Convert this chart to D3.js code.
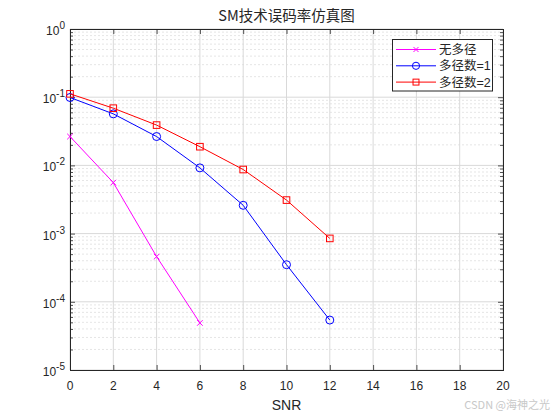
<!DOCTYPE html>
<html><head><meta charset="utf-8">
<script src="https://cdn.jsdelivr.net/npm/d3@7"></script>
<style>body{margin:0;background:#fff;}svg{display:block;}</style>
</head><body>
<script>
const snrNoMP = [0, 2, 4, 6];
const berNoMP = [0.0265, 0.0056, 0.00046, 0.000049];
const snrMP1 = [0, 2, 4, 6, 8, 10, 12];
const berMP1 = [0.099, 0.057, 0.0265, 0.0092, 0.0026, 0.00035, 0.000054];
const snrMP2 = [0, 2, 4, 6, 8, 10, 12];
const berMP2 = [0.112, 0.069, 0.039, 0.0188, 0.0087, 0.0031, 0.00085];
const xTicks = [0, 2, 4, 6, 8, 10, 12, 14, 16, 18, 20];
const yExps = [0, -1, -2, -3, -4, -5];
const seriesNames = ["无多径", "多径数=1", "多径数=2"];
const seriesColors = ["#ff00ff", "#0000ff", "#ff0000"];

const W = 554, H = 415;
const m = {l: 70, r: 51, t: 29, b: 45};
const svg = d3.select("body").append("svg").attr("width", W).attr("height", H);
const x = d3.scaleLinear().domain([0, 20]).range([m.l, W - m.r]);
const y = d3.scaleLog().domain([1e-5, 1]).range([H - m.b, m.t]);
const font = "'Liberation Sans', Arial, 'Noto Sans CJK SC', sans-serif";
const cjk = "'Noto Sans CJK SC', 'Liberation Sans', sans-serif";

const g = svg.append("g");
const minor = [];
for (let e = -5; e < 0; e++) for (let k = 2; k <= 9; k++) minor.push(k * Math.pow(10, e));
g.selectAll(".mg").data(minor).enter().append("line")
  .attr("x1", m.l).attr("x2", W - m.r).attr("y1", d => y(d)).attr("y2", d => y(d))
  .attr("stroke", "#dedede").attr("stroke-width", 0.8).attr("stroke-dasharray", "2,2");
g.selectAll(".Mg").data(yExps).enter().append("line")
  .attr("x1", m.l).attr("x2", W - m.r).attr("y1", d => y(Math.pow(10, d))).attr("y2", d => y(Math.pow(10, d)))
  .attr("stroke", "#d9d9d9").attr("stroke-width", 1);
g.selectAll(".xg").data(xTicks).enter().append("line")
  .attr("y1", m.t).attr("y2", H - m.b).attr("x1", d => x(d)).attr("x2", d => x(d))
  .attr("stroke", "#d9d9d9").attr("stroke-width", 1);

const axB = d3.axisBottom(x).tickValues(xTicks).tickSize(-5).tickFormat("");
const axT = d3.axisTop(x).tickValues(xTicks).tickSize(-5).tickFormat("");
svg.append("g").attr("transform", `translate(0,${H - m.b})`).call(axB);
svg.append("g").attr("transform", `translate(0,${m.t})`).call(axT);
const majorVals = yExps.map(e => Math.pow(10, e));
const axL = d3.axisLeft(y).tickValues(majorVals).tickSize(-5).tickFormat("");
const axR = d3.axisRight(y).tickValues(majorVals).tickSize(-5).tickFormat("");
const axLm = d3.axisLeft(y).tickValues(minor).tickSize(-3).tickFormat("");
const axRm = d3.axisRight(y).tickValues(minor).tickSize(-3).tickFormat("");
svg.append("g").attr("transform", `translate(${m.l},0)`).call(axL);
svg.append("g").attr("transform", `translate(${m.l},0)`).call(axLm);
svg.append("g").attr("transform", `translate(${W - m.r},0)`).call(axR);
svg.append("g").attr("transform", `translate(${W - m.r},0)`).call(axRm);
svg.selectAll(".domain").attr("stroke", "#262626").attr("stroke-width", 1);
svg.selectAll(".tick line").attr("stroke", "#262626").attr("stroke-width", 0.8);

svg.selectAll(".xl").data(xTicks).enter().append("text")
  .attr("x", d => x(d)).attr("y", H - m.b + 20).attr("text-anchor", "middle")
  .attr("font-family", font).attr("font-size", 12).attr("fill", "#262626").text(d => d);
yExps.forEach(e => {
  const t = svg.append("text").attr("x", m.l - 5).attr("y", y(Math.pow(10, e)) + 6)
    .attr("text-anchor", "end").attr("font-family", font).attr("font-size", 12).attr("fill", "#262626");
  t.append("tspan").text("10");
  t.append("tspan").attr("dy", -6).attr("font-size", 10).text(String(e));
});

svg.append("text").attr("x", (m.l + W - m.r) / 2).attr("y", 410).attr("text-anchor", "middle")
  .attr("font-family", font).attr("font-size", 14).attr("fill", "#262626").text("SNR");
svg.append("text").attr("x", (m.l + W - m.r) / 2).attr("y", 21).attr("text-anchor", "middle")
  .attr("font-family", cjk).attr("font-size", 14.5).attr("fill", "#262626").text("SM技术误码率仿真图");

const series = [
  {xs: snrNoMP, ys: berNoMP, c: seriesColors[0], mk: "x"},
  {xs: snrMP1, ys: berMP1, c: seriesColors[1], mk: "o"},
  {xs: snrMP2, ys: berMP2, c: seriesColors[2], mk: "s"}
];
const line = d3.line().x(d => x(d[0])).y(d => y(d[1]));
function marker(sel, type, c, cx, cy, sc) {
  sc = sc || 1;
  if (type === "x") {
    const h = 2.8 * sc;
    sel.append("path").attr("d", `M${cx-h},${cy-h}L${cx+h},${cy+h}M${cx-h},${cy+h}L${cx+h},${cy-h}`)
      .attr("stroke", c).attr("stroke-width", 1).attr("fill", "none");
  } else if (type === "o") {
    sel.append("circle").attr("cx", cx).attr("cy", cy).attr("r", 4 * sc).attr("stroke", c).attr("stroke-width", 1).attr("fill", "none");
  } else {
    const h = 3.3 * sc;
    sel.append("rect").attr("x", cx - h).attr("y", cy - h).attr("width", 2 * h).attr("height", 2 * h)
      .attr("stroke", c).attr("stroke-width", 1).attr("fill", "none");
  }
}
series.forEach(s => {
  const pts = s.xs.map((v, i) => [v, s.ys[i]]);
  svg.append("path").datum(pts).attr("d", line).attr("fill", "none").attr("stroke", s.c).attr("stroke-width", 1);
  const mg = svg.append("g");
  pts.forEach(p => marker(mg, s.mk, s.c, x(p[0]), y(p[1])));
});

const lg = svg.append("g");
lg.append("rect").attr("x", 392.5).attr("y", 39.5).attr("width", 100).attr("height", 51.5)
  .attr("fill", "#fff").attr("stroke", "#262626").attr("stroke-width", 1);
series.forEach((s, i) => {
  const yy = 49.5 + i * 16.3;
  lg.append("line").attr("x1", 396).attr("x2", 436).attr("y1", yy).attr("y2", yy).attr("stroke", s.c).attr("stroke-width", 1);
  marker(lg, s.mk, s.c, 416, yy, 0.9);
  lg.append("text").attr("x", 439).attr("y", yy + 4.5).attr("font-family", font).attr("font-size", 12.5)
    .attr("fill", "#262626").text(seriesNames[i]);
});

svg.append("text").attr("x", 550).attr("y", 409).attr("text-anchor", "end").attr("font-family", cjk)
  .attr("font-size", 11).attr("fill", "#c8c8c8").text("CSDN @海神之光");
</script>
</body></html>
